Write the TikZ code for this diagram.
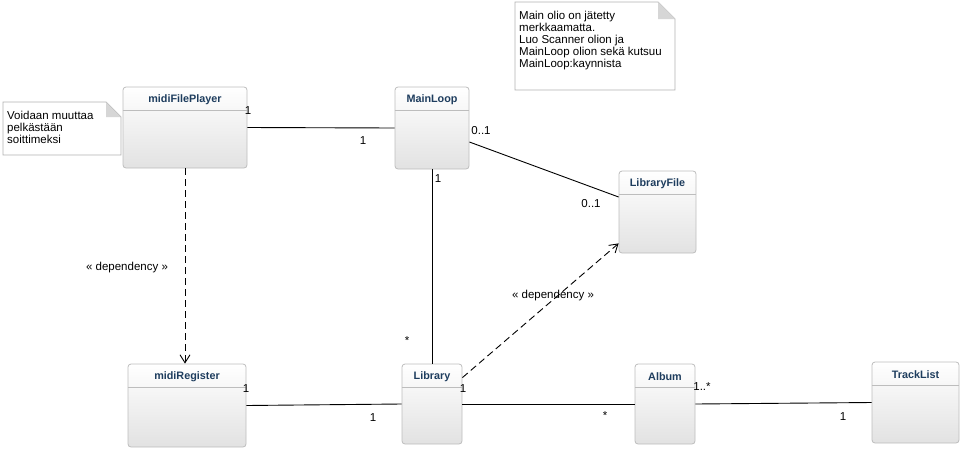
\documentclass[tikz,border=0pt]{standalone}
\usepackage{fontspec}
\setmainfont{Liberation Sans}
\usepackage{tikz}
\usetikzlibrary{
	arrows.meta, % for the open dependency heads
	calc
	}
\definecolor{clsborder}{HTML}{BDBDBD}
\definecolor{clsname}{HTML}{1E3D5E}
\definecolor{clsbottom}{HTML}{E2E2E2}
\definecolor{notefold}{HTML}{D6D6D6}

% class box: name, x, y, width, height, title
\newcommand{\umlclass}[6]{%
    \node[cls,minimum width=#4pt,minimum height=#5pt] (#1) at (#2,#3) {};
    \node[clstitle] (#1-name) at ([yshift=-13.5pt]#1.north) {#6};
    \draw[clsborder,line width=0.8pt] ([yshift=-24pt]#1.north west) -- ([yshift=-24pt]#1.north east);
}

\begin{document}
\begin{tikzpicture}[
                x=1pt,y=-1pt,
                cls/.style={draw=clsborder,line width=0.8pt,rounded corners=3pt,top color=white,bottom color=clsbottom,inner sep=0pt},
                clstitle/.style={font=\fontsize{10.8}{12}\selectfont\bfseries,text=clsname,inner sep=0pt},
                note/.style={draw=gray!60,line width=0.8pt,fill=white},
                notetext/.style={font=\fontsize{11.5}{12}\selectfont,align=left,anchor=north west,inner sep=0pt},
                mult/.style={font=\fontsize{11.5}{12}\selectfont,inner sep=0pt},
                assoc/.style={draw=black,line width=0.9pt},
                dep/.style={draw=black,line width=0.9pt,dash pattern=on 7pt off 4pt,-{Straight Barb[length=8pt,width=10pt]}},
            ]
                \useasboundingbox (0,0) rectangle (979,466);

                %% Notes
                \draw[note] (515,2) -- (658,2) -- (675,19) -- (675,90) -- (515,90) -- cycle;
                \fill[notefold] (658,2) -- (675,19) -- (658,19) -- cycle;
                \node[notetext] (mainnote) at (519,11) {Main olio on jätetty\\merkkaamatta.\\Luo Scanner olion ja\\MainLoop olion sekä kutsuu\\MainLoop:kaynnista};

                \draw[note] (3,102) -- (106,102) -- (121,117) -- (121,155) -- (3,155) -- cycle;
                \fill[notefold] (106,102) -- (121,117) -- (106,117) -- cycle;
                \node[notetext] (playernote) at (7,111) {Voidaan muuttaa\\pelkästään\\soittimeksi};

                %% Classes
                \umlclass{player}{185}{127.5}{124}{81}{midiFilePlayer}
                \umlclass{loop}{432}{128}{74}{82}{MainLoop}
                \umlclass{libfile}{657.5}{212}{77}{82}{LibraryFile}
                \umlclass{register}{187}{405.5}{118}{83}{midiRegister}
                \umlclass{library}{432}{404}{60}{80}{Library}
                \umlclass{album}{665}{404}{60}{80}{Album}
                \umlclass{tracks}{915.5}{402.5}{87}{81}{TrackList}

                %% Associations
                \draw[assoc] (player.east) -- (loop.west);
                \draw[assoc] ([yshift=-14pt]loop.east) -- ([yshift=15pt]libfile.west);
                \draw[assoc] (loop.south) -- (library.north);
                \draw[assoc] (register.east) -- (library.west);
                \draw[assoc] (library.east) -- (album.west);
                \draw[assoc] (album.east) -- (tracks.west);

                % Dependencies
                \draw[dep] (player.south) -- (player.south |- register.north);
                \draw[dep] ([yshift=-14pt]library.north east) -- ([yshift=10pt]libfile.south west);

                %% Multiplicities and labels
                \node[mult] (m1) at (248,111) {1};
                \node[mult] (m2) at (363,141) {1};
                \node[mult] (m3) at (481,131) {0..1};
                \node[mult] (m4) at (591,204) {0..1};
                \node[mult] (m5) at (438,179) {1};
                \node[mult] (m6) at (407,341) {*};
                \node[mult] (m7) at (246,389) {1};
                \node[mult] (m8) at (373,418) {1};
                \node[mult] (m9) at (463,389) {1};
                \node[mult] (m10) at (605,416) {*};
                \node[mult] (m11) at (702,387) {1..*};
                \node[mult] (m12) at (843,417) {1};
                \node[mult] (dep1) at (127,268) {« dependency »};
                \node[mult] (dep2) at (553,296) {« dependency »};

            \end{tikzpicture}
\end{document}
